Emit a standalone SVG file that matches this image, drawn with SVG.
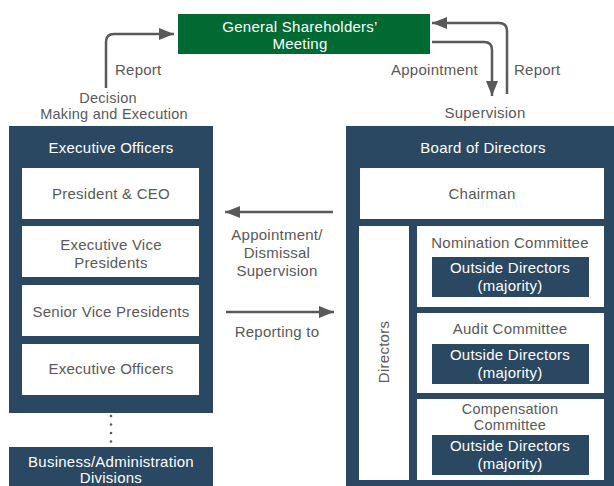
<svg xmlns="http://www.w3.org/2000/svg" width="614" height="486" viewBox="0 0 614 486">
<defs>
<style>
text{font-family:"Liberation Sans",Arial,sans-serif;font-size:15px;letter-spacing:0.25px;text-anchor:middle}
.g{fill:#595959}
.w{fill:#ffffff}
.t{font-size:14.5px}
.navy{fill:#2a4862}
.box{fill:#ffffff}
.ln{fill:none;stroke:#5a5a5a;stroke-width:2.5}
</style>
<marker id="ah" markerUnits="userSpaceOnUse" markerWidth="16" markerHeight="14" refX="15" refY="6" orient="auto">
<path d="M0,0 L15,6 L0,12 Z" fill="#5a5a5a"/>
</marker>
</defs>
<rect width="614" height="486" fill="#ffffff"/>

<g id="gsm">
<rect x="178" y="14" width="252" height="40" fill="#006a32"/>
<text class="w" x="300" y="32">General Shareholders’</text>
<text class="w" x="300" y="49">Meeting</text>
</g>

<g id="connectors">
<path class="ln" d="M106,88 V42 Q106,34 114,34 H174" marker-end="url(#ah)"/>
<path class="ln" d="M432,42 H484 Q492,42 492,50 V96" marker-end="url(#ah)"/>
<path class="ln" d="M507,94 V31 Q507,23 499,23 H432" marker-end="url(#ah)"/>
<path class="ln" d="M333,212 H225" marker-end="url(#ah)"/>
<path class="ln" d="M226,312 H334" marker-end="url(#ah)"/>
<g fill="#5a5a5a">
<circle cx="111" cy="416" r="1.3"/>
<circle cx="111" cy="424.5" r="1.3"/>
<circle cx="111" cy="433" r="1.3"/>
<circle cx="111" cy="441.5" r="1.3"/>
</g>
<text class="g" x="115" y="75" style="text-anchor:start">Report</text>
<text class="g t" x="108" y="103">Decision</text>
<text class="g t" x="114" y="119">Making and Execution</text>
<text class="g" x="478" y="75" style="text-anchor:end">Appointment</text>
<text class="g" x="514" y="75" style="text-anchor:start">Report</text>
<text class="g" x="485" y="118">Supervision</text>
<text class="g" x="277" y="240">Appointment/</text>
<text class="g" x="277" y="258">Dismissal</text>
<text class="g" x="277" y="276">Supervision</text>
<text class="g" x="277" y="337">Reporting to</text>
</g>

<g id="executive-officers">
<rect class="navy" x="9" y="126" width="204" height="287"/>
<text class="w" x="111" y="153">Executive Officers</text>
</g>
<g id="president-ceo">
<rect class="box" x="22" y="168" width="177" height="51"/>
<text class="g" x="111" y="199">President &amp; CEO</text>
</g>
<g id="evp">
<rect class="box" x="22" y="226" width="177" height="51"/>
<text class="g" x="111" y="250">Executive Vice</text>
<text class="g" x="111" y="268">Presidents</text>
</g>
<g id="svp">
<rect class="box" x="22" y="285" width="177" height="51"/>
<text class="g" x="111" y="317">Senior Vice Presidents</text>
</g>
<g id="eo">
<rect class="box" x="22" y="344" width="177" height="51"/>
<text class="g" x="111" y="374">Executive Officers</text>
</g>
<g id="business-divisions">
<rect class="navy" x="9" y="447" width="204" height="39"/>
<text class="w" x="111" y="467">Business/Administration</text>
<text class="w" x="111" y="483">Divisions</text>
</g>

<g id="board">
<rect class="navy" x="346" y="126" width="268" height="360"/>
<text class="w" x="483" y="153">Board of Directors</text>
</g>
<g id="chairman">
<rect class="box" x="360" y="168" width="244" height="51"/>
<text class="g" x="482" y="199">Chairman</text>
</g>
<g id="directors">
<rect class="box" x="359" y="226" width="50" height="254"/>
<text class="g" transform="translate(389,352) rotate(-90)">Directors</text>
</g>
<g id="nomination">
<rect class="box" x="417" y="226" width="187" height="81"/>
<text class="g" x="510" y="248">Nomination Committee</text>
<rect class="navy" x="432" y="257" width="157" height="40"/>
<text class="w" x="510" y="273">Outside Directors</text>
<text class="w" x="510" y="291">(majority)</text>
</g>
<g id="audit">
<rect class="box" x="417" y="313" width="187" height="80"/>
<text class="g" x="510" y="334">Audit Committee</text>
<rect class="navy" x="432" y="344" width="157" height="40"/>
<text class="w" x="510" y="360">Outside Directors</text>
<text class="w" x="510" y="378">(majority)</text>
</g>
<g id="compensation">
<rect class="box" x="417" y="399" width="187" height="81"/>
<text class="g t" x="510" y="414">Compensation</text>
<text class="g t" x="510" y="430">Committee</text>
<rect class="navy" x="432" y="435" width="157" height="40"/>
<text class="w" x="510" y="451">Outside Directors</text>
<text class="w" x="510" y="469">(majority)</text>
</g>
</svg>
